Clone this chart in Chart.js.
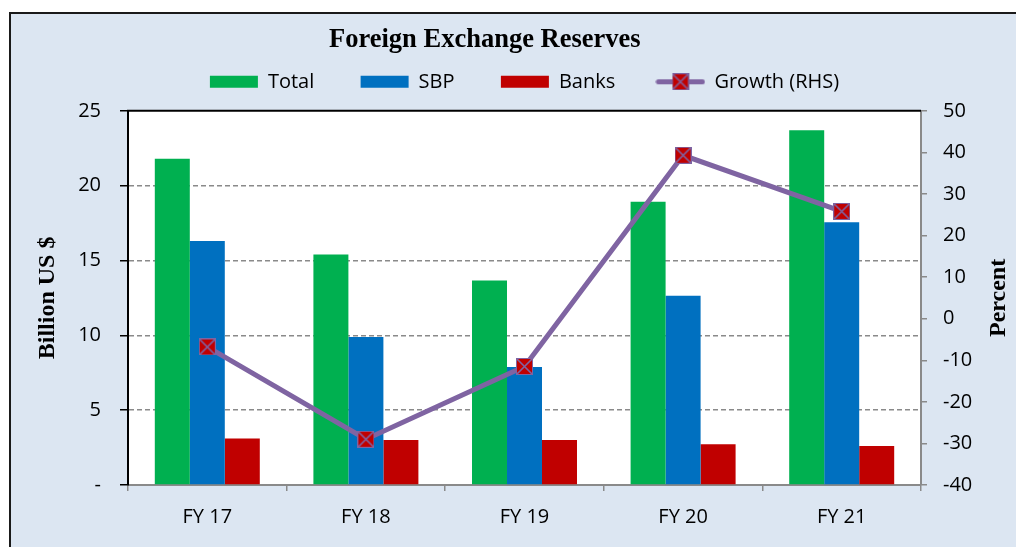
<!DOCTYPE html>
<html>
<head>
<meta charset="utf-8">
<script src="https://cdn.jsdelivr.net/npm/chart.js@4"></script>
<style>
  html, body { margin: 0; padding: 0; background: #fff; }
  canvas { display: block; }
</style>
</head>
<body>
<canvas id="myChart" width="1016" height="547"></canvas>
<script>
// chart data
var years = ["FY 17", "FY 18", "FY 19", "FY 20", "FY 21"];
var total = [21.8, 15.4, 13.67, 18.93, 23.7];
var sbp = [16.3, 9.88, 7.88, 12.65, 17.55];
var banks = [3.1, 3.0, 3.0, 2.73, 2.6];
var growth = [-6.8, -29.0, -11.5, 39.3, 25.8];

var leftTicks = { min: 0, max: 25, step: 5 };
var rightTicks = { min: -40, max: 50, step: 10 };

var titleText = "Foreign Exchange Reserves";
var leftTitle = "Billion US $";
var rightTitle = "Percent";

var green = "#00B050", blue = "#0070C0", red = "#C00000", purple = "#7F64A2";
var gridGray = "#8a8a8a";

// marker: red square with a purple cross
makeMarker = () => {
    let c = document.createElement("canvas");
    c.width = 17; c.height = 17;
    let g = c.getContext("2d");
    g.fillStyle = red;
    g.fillRect(0, 0, 17, 17);
    g.strokeStyle = purple;
    g.lineWidth = 1;
    g.strokeRect(0.5, 0.5, 16, 16);
    g.lineWidth = 1.6;
    g.beginPath();
    g.moveTo(1, 1); g.lineTo(16, 16);
    g.moveTo(16, 1); g.lineTo(1, 16);
    g.stroke();
    return c;
}
var marker = makeMarker();

// legend swatch for the line: purple line with the marker in the middle
makeLegendLine = () => {
    let c = document.createElement("canvas");
    c.width = 50; c.height = 17;
    let g = c.getContext("2d");
    g.strokeStyle = purple;
    g.lineWidth = 5;
    g.lineCap = "round";
    g.beginPath();
    g.moveTo(3, 8.5); g.lineTo(47, 8.5);
    g.stroke();
    g.drawImage(marker, 16.5, 0);
    return c;
}
var legendLine = makeLegendLine();

var pads = ["       ", "       ", "      ", ""];

var framePlugin = {
    id: "frame",
    beforeDraw: chart => {
        let ctx = chart.ctx, a = chart.chartArea;
        ctx.save();
        ctx.fillStyle = "#fff";
        ctx.fillRect(0, 0, chart.width, chart.height);
        ctx.fillStyle = "#DCE6F2";
        ctx.fillRect(10, 13, chart.width - 10, chart.height - 13);
        ctx.fillStyle = "#1a1a1a";
        ctx.fillRect(9, 12, chart.width - 9, 2);
        ctx.fillRect(9, 12, 2, chart.height - 12);
        ctx.fillStyle = "#fff";
        ctx.fillRect(a.left, a.top, a.right - a.left, a.bottom - a.top);
        ctx.restore();
    },
    afterDraw: chart => {
        let ctx = chart.ctx, a = chart.chartArea;
        ctx.save();
        ctx.strokeStyle = "#000";
        ctx.lineWidth = 2;
        ctx.beginPath();
        ctx.moveTo(a.left - 1, a.top);
        ctx.lineTo(a.right, a.top);
        ctx.stroke();
        // right axis title reads bottom to top
        ctx.translate(999, (a.top + a.bottom) / 2);
        ctx.rotate(-Math.PI / 2);
        ctx.fillStyle = "#000";
        ctx.font = "bold 24px 'Liberation Serif', serif";
        ctx.textAlign = "center";
        ctx.textBaseline = "middle";
        ctx.fillText(rightTitle, 0, 0);
        ctx.restore();
    }
};

Chart.defaults.font.family = "'Open Sans', sans-serif";
Chart.defaults.font.size = 20;
Chart.defaults.color = "#000";

createChart = () => {
    chart = new Chart(document.getElementById("myChart"), {
        type: "bar",
        data: {
            labels: years,
            datasets: [
                { label: "Total", data: total, backgroundColor: green, yAxisID: "y", order: 1 },
                { label: "SBP", data: sbp, backgroundColor: blue, yAxisID: "y", order: 1 },
                { label: "Banks", data: banks, backgroundColor: red, yAxisID: "y", order: 1 },
                {
                    type: "line",
                    label: "Growth (RHS)",
                    data: growth,
                    yAxisID: "y1",
                    borderColor: purple,
                    backgroundColor: purple,
                    borderWidth: 5,
                    tension: 0,
                    pointStyle: marker,
                    pointRadius: 9,
                    order: 0
                }
            ]
        },
        options: {
            responsive: false,
            animation: false,
            barPercentage: 1,
            categoryPercentage: 0.662,
            layout: { padding: { top: 24, left: 0, right: 0, bottom: 0 } },
            plugins: {
                title: {
                    display: true,
                    text: titleText + "       ",
                    font: { family: "'Liberation Serif', serif", size: 26.5, weight: "bold" },
                    color: "#000",
                    padding: { top: 0, bottom: 6 }
                },
                subtitle: {
                    display: true,
                    text: "",
                    weight: 500,
                    font: { size: 1, lineHeight: 1 },
                    padding: { top: 8, bottom: 0 }
                },
                legend: {
                    fullSize: false,
                    labels: {
                        usePointStyle: true,
                        pointStyleWidth: 48,
                        boxHeight: 12,
                        padding: 10,
                        color: "#000",
                        generateLabels: c => c.data.datasets.map((ds, i) => ({
                            text: ds.label + pads[i],
                            fillStyle: ds.backgroundColor,
                            strokeStyle: ds.backgroundColor,
                            lineWidth: 0,
                            pointStyle: i < 3 ? "rect" : legendLine,
                            datasetIndex: i,
                            hidden: false
                        }))
                    }
                },
                tooltip: { enabled: false }
            },
            scales: {
                x: {
                    grid: { offset: true, drawOnChartArea: false, color: gridGray, tickLength: 6, lineWidth: 1.5 },
                    border: { color: gridGray, width: 2 },
                    ticks: { padding: 14 },
                    afterFit: s => { s.height = 62; }
                },
                y: {
                    position: "left",
                    min: leftTicks.min,
                    max: leftTicks.max,
                    ticks: {
                        stepSize: leftTicks.step,
                        padding: 19,
                        callback: v => v === 0 ? "-" : v
                    },
                    grid: {
                        color: c => (c.tick && (c.tick.value === 0 || c.tick.value === 25)) ? "rgba(0,0,0,0)" : gridGray,
                        lineWidth: 1.5,
                        tickColor: "#000",
                        tickLength: 8
                    },
                    border: { color: "#000", width: 2, dash: [5, 3] },
                    title: {
                        display: true,
                        text: leftTitle,
                        font: { family: "'Liberation Serif', serif", size: 24, weight: "bold" },
                        color: "#000",
                        padding: { top: 33, bottom: 0 }
                    },
                    afterFit: s => { s.width = 128; }
                },
                y1: {
                    position: "right",
                    min: rightTicks.min,
                    max: rightTicks.max,
                    ticks: { stepSize: rightTicks.step, padding: 16 },
                    grid: { drawOnChartArea: false, color: gridGray, tickLength: 6, lineWidth: 1.5 },
                    border: { color: gridGray, width: 2 },
                    afterFit: s => { s.width = 95; }
                }
            }
        },
        plugins: [framePlugin]
    });
}

createChart();
</script>
</body>
</html>
